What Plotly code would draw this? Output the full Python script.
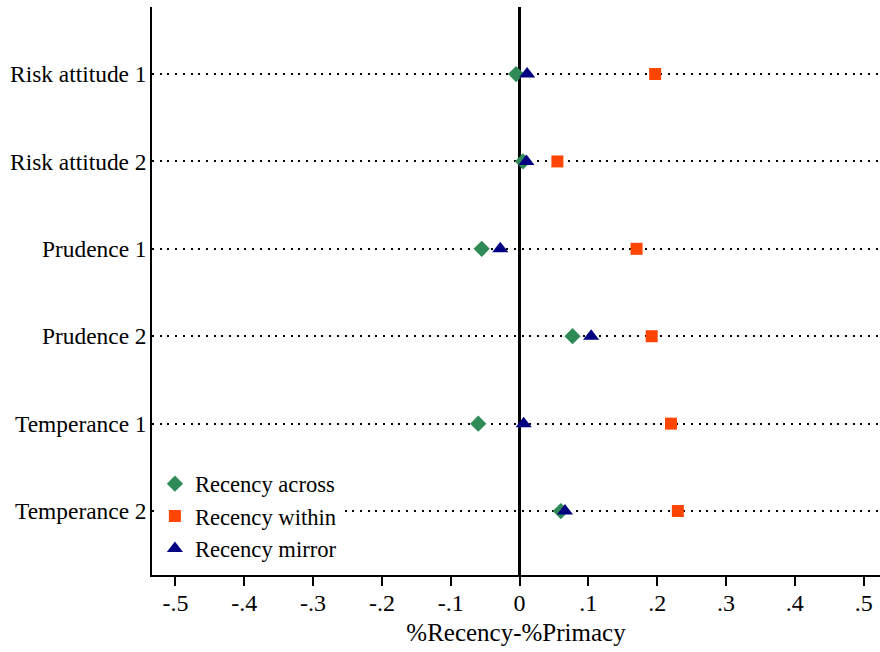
import plotly.graph_objects as go

# Outcome measures, listed top to bottom
categories = ["Risk attitude 1", "Risk attitude 2", "Prudence 1",
              "Prudence 2", "Temperance 1", "Temperance 2"]

# %Recency - %Primacy for each treatment
recency_across = [-0.005, 0.005, -0.055, 0.077, -0.060, 0.060]
recency_within = [0.197, 0.055, 0.170, 0.192, 0.220, 0.230]
recency_mirror = [0.011, 0.010, -0.028, 0.104, 0.006, 0.066]

x_ticks = [-0.5, -0.4, -0.3, -0.2, -0.1, 0, 0.1, 0.2, 0.3, 0.4, 0.5]
x_tick_labels = ["-.5", "-.4", "-.3", "-.2", "-.1", "0", ".1", ".2", ".3", ".4", ".5"]

y_pos = list(range(1, len(categories) + 1))
font_family = "Liberation Serif, Times New Roman, serif"

fig = go.Figure()
fig.add_trace(go.Scatter(
    x=recency_across, y=y_pos, mode="markers", name="Recency across",
    marker=dict(symbol="diamond", size=12.5, color="#2E8B57"),
))
fig.add_trace(go.Scatter(
    x=recency_within, y=y_pos, mode="markers", name="Recency within",
    marker=dict(symbol="square", size=12, color="#FF4500"),
))
fig.add_trace(go.Scatter(
    x=recency_mirror, y=y_pos, mode="markers", name="Recency mirror",
    marker=dict(symbol="triangle-up", size=14, color="#000080"),
))

fig.update_layout(
    width=880, height=652,
    margin=dict(l=152, r=0, t=7, b=77),
    paper_bgcolor="white", plot_bgcolor="white",
    font=dict(family=font_family, size=22, color="black"),
    showlegend=True,
    legend=dict(
        x=0.004, y=0.008, xanchor="left", yanchor="bottom",
        bgcolor="white", borderwidth=0,
        font=dict(family=font_family, size=22.6, color="black"),
        tracegroupgap=0,
    ),
    xaxis=dict(
        range=[-0.534, 0.5237],
        tickvals=x_ticks, ticktext=x_tick_labels,
        ticks="outside", ticklen=9, tickwidth=1.5, tickcolor="black",
        ticklabelstandoff=-4,
        showline=True, linecolor="black", linewidth=1.5,
        showgrid=False,
        zeroline=True, zerolinecolor="black", zerolinewidth=3,
        title=dict(text="%Recency-%Primacy", standoff=9,
                   font=dict(family=font_family, size=25)),
        tickfont=dict(family=font_family, size=24),
    ),
    yaxis=dict(
        range=[6.732, 0.233],
        tickvals=y_pos, ticktext=categories,
        ticks="", ticklabelstandoff=-1,
        showline=True, linecolor="black", linewidth=1.5,
        showgrid=True, gridcolor="black", gridwidth=2,
        griddash="2px,5.7px",
        zeroline=False,
        tickfont=dict(family=font_family, size=23.4),
    ),
)

fig.write_html("out.html")
